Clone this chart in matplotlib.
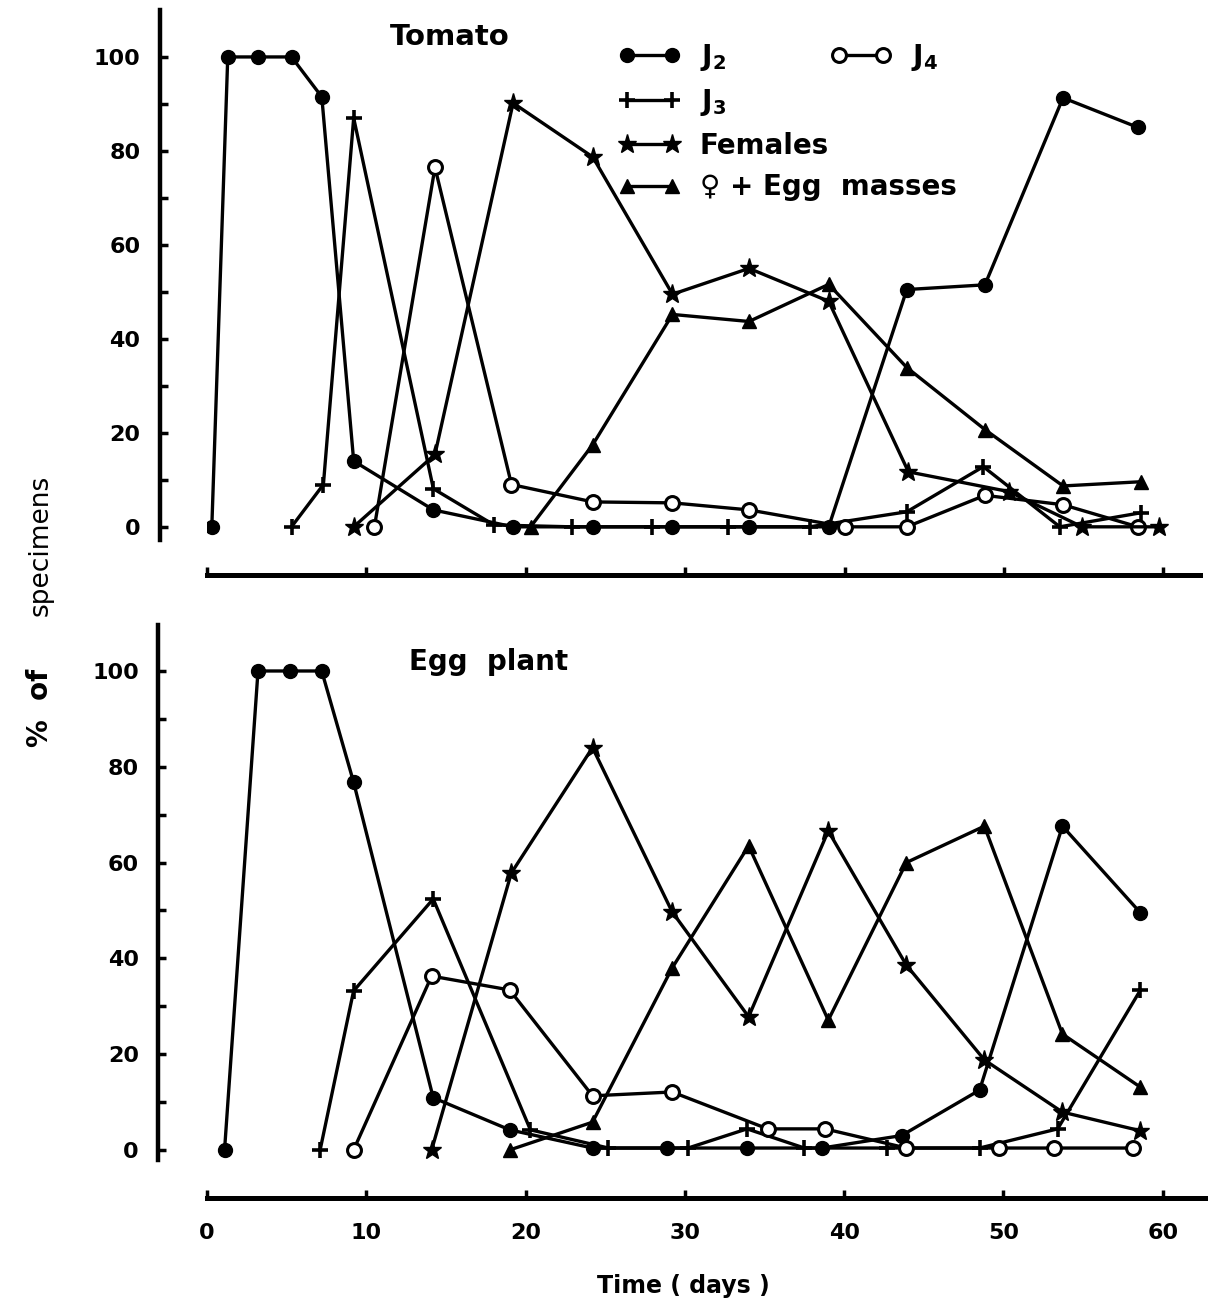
import matplotlib
matplotlib.use("Agg")
import matplotlib.pyplot as plt

# Tomato panel (days, % of specimens)
tom_j2_days = [0.3, 1.3, 3.2, 5.3, 7.2, 9.2, 14.2, 19.2, 24.2, 29.2, 34, 39, 43.9, 48.8, 53.7, 58.4]
tom_j2 = [0, 100, 100, 100, 91.5, 14, 3.6, 0, 0, 0, 0, 0, 50.5, 51.5, 91.3, 85]
tom_j3_days = [5.3, 7.3, 9.2, 14.2, 18, 22.9, 27.9, 32.7, 37.8, 43.9, 48.7, 53.5, 58.6]
tom_j3 = [0, 9, 87, 8.1, 0.4, 0, 0, 0, 0, 3.2, 12.8, 0, 3]
tom_j4_days = [10.5, 14.3, 19.1, 24.2, 29.2, 34, 40, 43.9, 48.8, 53.7, 58.4]
tom_j4 = [0, 76.5, 9, 5.3, 5.1, 3.6, 0, 0, 6.7, 4.7, 0]
tom_fem_days = [9.2, 14.3, 19.2, 24.2, 29.2, 34, 39, 44, 50.3, 54.9, 59.7]
tom_fem = [0, 15.4, 90.2, 78.7, 49.5, 55, 48, 11.7, 7.5, 0, 0]
tom_egg_days = [20.3, 24.2, 29.2, 34, 39, 43.9, 48.8, 53.7, 58.6]
tom_egg = [0, 17.5, 45.2, 43.7, 51.6, 33.9, 20.7, 8.7, 9.6]

# Egg plant panel
egg_j2_days = [1.1, 3.2, 5.2, 7.2, 9.2, 14.2, 19, 24.2, 28.9, 33.9, 38.6, 43.6, 48.5, 53.7, 58.6]
egg_j2 = [0, 100, 100, 100, 76.8, 10.9, 4.2, 0.4, 0.4, 0.4, 0.4, 3, 12.5, 67.6, 49.5]
egg_j3_days = [7.1, 9.2, 14.2, 20.3, 25.2, 30.2, 33.9, 37.5, 42.7, 48.5, 53.4, 58.6]
egg_j3 = [0, 33.2, 52.4, 4.2, 0.4, 0.4, 4.4, 0.4, 0.4, 0.4, 4.4, 33.4]
egg_j4_days = [9.2, 14.1, 19, 24.2, 29.2, 35.2, 38.8, 43.9, 49.7, 53.2, 58.1]
egg_j4 = [0, 36.3, 33.4, 11.3, 12.1, 4.4, 4.4, 0.4, 0.4, 0.4, 0.4]
egg_fem_days = [14.1, 19.1, 24.2, 29.2, 34, 39, 43.9, 48.8, 53.7, 58.6]
egg_fem = [0, 57.8, 84, 49.7, 27.8, 66.6, 38.6, 18.8, 7.9, 4]
egg_egg_days = [19, 24.2, 29.2, 34, 39, 43.9, 48.8, 53.7, 58.6]
egg_egg = [0, 5.8, 38, 63.5, 27.1, 60, 67.6, 24.2, 13.1]

x_ticks = [0, 10, 20, 30, 40, 50, 60]
y_major = [0, 20, 40, 60, 80, 100]
y_minor = [10, 30, 50, 70, 90]

plt.rcParams['font.family'] = ['DejaVu Sans']
plt.rcParams['mathtext.fontset'] = 'dejavusans'

lw = 2.4
styles = {
    'j2': dict(marker='o', markerfacecolor='black', markersize=10),
    'j3': dict(marker='+', markersize=12, markeredgewidth=2.6),
    'j4': dict(marker='o', markerfacecolor='white', markersize=10, markeredgewidth=2.2),
    'fem': dict(marker='*', markerfacecolor='black', markersize=14),
    'egg': dict(marker='^', markerfacecolor='black', markersize=10),
}

fig = plt.figure(figsize=(12.2, 13.1), dpi=100)
ax1 = fig.add_axes([0.1697, 0.5878, 0.814, 0.4046])
ax2 = fig.add_axes([0.1697, 0.1145, 0.818, 0.4084])


def draw(ax, data):
    lines = {}
    for key, days, vals in data:
        ln, = ax.plot(days, vals, color='black', linewidth=lw, **styles[key])
        lines[key] = ln
    return lines


def style_axes(ax, xmax, ymin, ymax, left_out, bottom_out, xlabels):
    ax.set_xlim(0, xmax)
    ax.set_ylim(ymin, ymax)
    for s in ['top', 'right']:
        ax.spines[s].set_visible(False)
    ax.spines['left'].set_position(('outward', left_out))
    ax.spines['bottom'].set_position(('outward', bottom_out))
    ax.spines['left'].set_linewidth(3.2)
    ax.spines['bottom'].set_linewidth(3.6)
    ax.set_yticks(y_major)
    ax.set_yticks(y_minor, minor=True)
    ax.set_xticks(x_ticks)
    ax.tick_params(axis='y', which='both', direction='in', length=6, width=2.5,
                   labelsize=16, pad=14)
    ax.tick_params(axis='x', direction='in', length=6, width=2.5, labelsize=16, pad=18)
    for t in ax.get_yticklabels():
        t.set_fontweight('bold')
    if xlabels:
        ax.set_xticklabels([str(v) for v in x_ticks], fontweight='bold')
    else:
        ax.set_xticklabels([])


top_lines = draw(ax1, [('j2', tom_j2_days, tom_j2), ('j3', tom_j3_days, tom_j3),
                       ('j4', tom_j4_days, tom_j4), ('fem', tom_fem_days, tom_fem),
                       ('egg', tom_egg_days, tom_egg)])
draw(ax2, [('j2', egg_j2_days, egg_j2), ('j3', egg_j3_days, egg_j3),
           ('j4', egg_j4_days, egg_j4), ('fem', egg_fem_days, egg_fem),
           ('egg', egg_egg_days, egg_egg)])

style_axes(ax1, 62.3, -2.8, 110, 34, 25, False)
style_axes(ax2, 62.65, -2.1, 109.6, 35, 27, True)

ax1.text(11.5, 104.3, 'Tomato', fontsize=21, fontweight='bold', va='center')
ax2.text(12.7, 101.9, 'Egg  plant', fontsize=20, fontweight='bold', va='center')

# legend (top panel)
leg_font = {'size': 20, 'weight': 'bold', 'family': ['DejaVu Sans']}
leg1 = ax1.legend([top_lines['j2'], top_lines['j3'], top_lines['fem'], top_lines['egg']],
                  [r'J$_\mathbf{2}$', r'J$_\mathbf{3}$', 'Females', '\u2640 + Egg  masses'],
                  loc='upper left', bbox_to_anchor=(0.415, 0.94), frameon=False,
                  numpoints=2, handlelength=2.2, handletextpad=0.7, labelspacing=0.5,
                  borderaxespad=0, borderpad=0, prop=leg_font)
ax1.add_artist(leg1)
ax1.legend([top_lines['j4']], [r'J$_\mathbf{4}$'], loc='upper left',
           bbox_to_anchor=(0.628, 0.94), frameon=False, numpoints=2, handlelength=2.2,
           handletextpad=0.7, borderaxespad=0, borderpad=0, prop=leg_font)

fig.text(0.56, 0.018, 'Time ( days )', fontsize=17, fontweight='bold', ha='center', va='center')
fig.text(0.033, 0.46, '%  of', fontsize=20, fontweight='bold', rotation=90,
         ha='center', va='center')
fig.text(0.033, 0.584, 'specimens', fontsize=19, rotation=90, ha='center', va='center')

fig.savefig('out.png', dpi=100)
